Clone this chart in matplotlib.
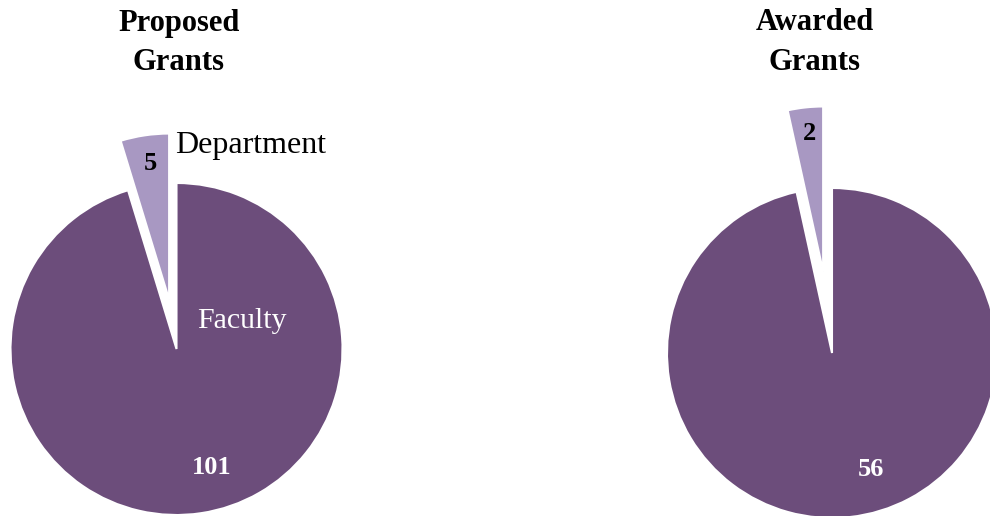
import matplotlib.pyplot as plt

# --- data ---
categories = ["Department", "Faculty"]
proposed = [5, 101]
awarded = [2, 56]
titles = ["Proposed\nGrants", "Awarded\nGrants"]

FACULTY_COLOR = "#6C4D7B"
DEPT_COLOR = "#A898C2"
W, H = 990, 516

plt.rcParams['font.family'] = ['Liberation Serif', 'DejaVu Serif']

fig = plt.figure(figsize=(W / 100, H / 100), dpi=100)
ax = fig.add_axes([0, 0, 1, 1])


def py(y):
    # pixel-from-top to axis y
    return H - y


def draw_pie(values, cx, cy, r, expl):
    ax.pie(values, center=(cx, py(cy)), radius=r, startangle=90,
           counterclock=True, explode=[expl, 0],
           colors=[DEPT_COLOR, FACULTY_COLOR],
           wedgeprops=dict(edgecolor='white', linewidth=1.5),
           frame=True)


draw_pie(proposed, 176.5, 349, 166, 50)
draw_pie(awarded, 832, 353, 165, 82)

# pie() resets limits and aspect, so put them back
ax.set_xlim(0, W)
ax.set_ylim(0, H)
ax.set_aspect('auto')
ax.axis('off')

# titles
for t, x in zip(titles, [179, 815]):
    l1, l2 = t.split("\n")
    ax.text(x, py(23), l1, ha='center', va='center', fontsize=22, fontweight='bold')
    ax.text(x, py(63), l2, ha='center', va='center', fontsize=22, fontweight='bold')

# labels, left pie
ax.text(175, py(146), categories[0], ha='left', va='center', fontsize=23)
ax.text(150, py(163), str(proposed[0]), ha='center', va='center',
        fontsize=19, fontweight='bold')
ax.text(242, py(321), categories[1], ha='center', va='center',
        fontsize=21.5, color='white')
ax.text(212, py(468), str(proposed[1]), ha='center', va='center',
        fontsize=19, fontweight='bold', color='white')

# labels, right pie
ax.text(810, py(133), str(awarded[0]), ha='center', va='center',
        fontsize=19, fontweight='bold')
ax.text(871, py(470), str(awarded[1]), ha='center', va='center',
        fontsize=19, fontweight='bold', color='white')

fig.savefig("out.png", dpi=100)
